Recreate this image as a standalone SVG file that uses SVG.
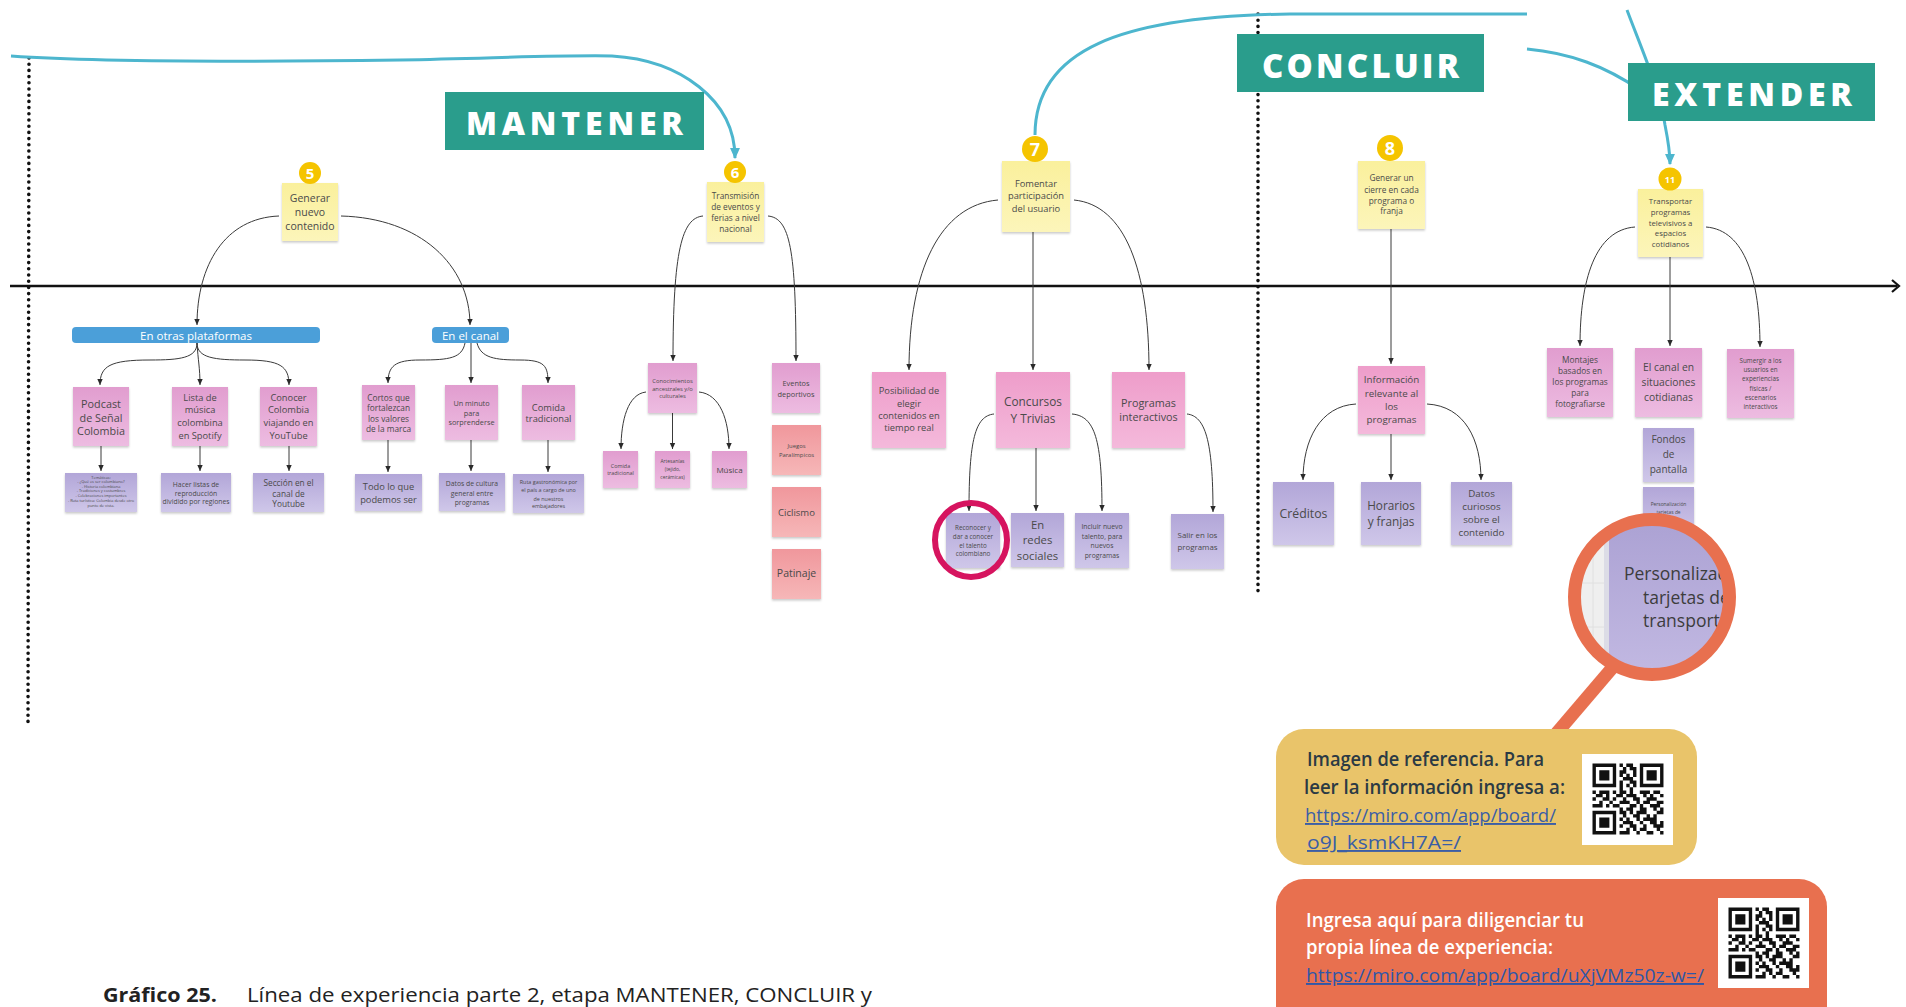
<svg xmlns="http://www.w3.org/2000/svg" width="1906" height="1007" viewBox="0 0 1906 1007">
<style>
.t{font-family:"Open Sans","Liberation Sans",sans-serif;fill:#4a4a4a;text-anchor:middle;dominant-baseline:central}
.conn{fill:none;stroke:#3a3a3a;stroke-width:1;marker-end:url(#ah)}
.teal{fill:none;stroke:#4DB6CE;stroke-width:3}
.lbl{font-family:"Open Sans","Liberation Sans",sans-serif;font-weight:800;fill:#fff}
.num{font-family:"Open Sans","Liberation Sans",sans-serif;font-weight:700;fill:#fff;text-anchor:middle;dominant-baseline:central}
.sticky{fill:url(#gY);filter:url(#sh)}
.pk{fill:url(#gP);filter:url(#sh)}
.pk2{fill:url(#gP2);filter:url(#sh)}
.pu{fill:url(#gU);filter:url(#sh)}
.sa{fill:url(#gS);filter:url(#sh)}
.circ{fill:#F5C400}
.dot{fill:none;stroke:#111;stroke-width:3.6;stroke-linecap:round;stroke-dasharray:0 6.2}
.info{font-family:"Open Sans","Liberation Sans",sans-serif;font-size:19px}
</style>
<defs>
<linearGradient id="gY" x1="0" y1="0" x2="0" y2="1"><stop offset="0" stop-color="#FAF09C"/><stop offset="1" stop-color="#FCF5BA"/></linearGradient>
<linearGradient id="gP" x1="0" y1="0" x2="0" y2="1"><stop offset="0" stop-color="#E19DCF"/><stop offset="1" stop-color="#EDBCE1"/></linearGradient>
<linearGradient id="gP2" x1="0" y1="0" x2="0" y2="1"><stop offset="0" stop-color="#EE9DCA"/><stop offset="1" stop-color="#F4B9DB"/></linearGradient>
<linearGradient id="gU" x1="0" y1="0" x2="0" y2="1"><stop offset="0" stop-color="#B2A6D8"/><stop offset="1" stop-color="#CFC7E9"/></linearGradient>
<linearGradient id="gS" x1="0" y1="0" x2="0" y2="1"><stop offset="0" stop-color="#F0979C"/><stop offset="1" stop-color="#F6B7B8"/></linearGradient>
<linearGradient id="gM" x1="0" y1="0" x2="0" y2="1"><stop offset="0" stop-color="#ABA1D3"/><stop offset="1" stop-color="#C3BAE3"/></linearGradient>
<filter id="sh" x="-10%" y="-10%" width="120%" height="125%"><feDropShadow dx="0" dy="1.5" stdDeviation="1.2" flood-color="#000" flood-opacity="0.22"/></filter>
<marker id="ah" viewBox="0 0 10 10" refX="10" refY="5" markerWidth="6" markerHeight="7" markerUnits="userSpaceOnUse" orient="auto"><path d="M0,0.5 L10,5 L0,9.5z" fill="#2a2a2a"/></marker>
<marker id="ahT" viewBox="0 0 10 10" refX="9" refY="5" markerWidth="11" markerHeight="12" markerUnits="userSpaceOnUse" orient="auto"><path d="M0,0.5 L10,5 L0,9.5z" fill="#4DB6CE"/></marker>
<clipPath id="magclip"><circle cx="1652" cy="597" r="72"/></clipPath>
<g id="qr">
<path fill-rule="evenodd" fill="#111" d="M0,0h7v7h-7zM1,1v5h5v-5zM2,2h3v3h-3z M14,0h7v7h-7zM15,1v5h5v-5zM16,2h3v3h-3z M0,14h7v7h-7zM1,15v5h5v-5zM2,16h3v3h-3z"/>
<path stroke="#111" stroke-width="1" fill="none" d="M8 .5h1M10 .5h2M9 1.5h1M11 1.5h2M8 2.5h2M12 2.5h1M8 3.5h1M10 3.5h1M12 3.5h1M9 4.5h3M8 5.5h1M11 5.5h2M8 6.5h1M10 6.5h1M12 6.5h1M8 7.5h1M11 7.5h1M0 8.5h1M2 8.5h3M6 8.5h1M8 8.5h2M11 8.5h1M14 8.5h3M18 8.5h2M1 9.5h2M4 9.5h1M7 9.5h2M10 9.5h3M15 9.5h1M17 9.5h1M20 9.5h1M0 10.5h1M3 10.5h2M6 10.5h1M9 10.5h1M12 10.5h2M16 10.5h3M2 11.5h1M5 11.5h1M8 11.5h3M13 11.5h1M15 11.5h2M19 11.5h2M0 12.5h3M4 12.5h1M6 12.5h2M11 12.5h2M14 12.5h1M17 12.5h3M8 13.5h1M10 13.5h2M14 13.5h2M18 13.5h1M20 13.5h1M8 14.5h2M11 14.5h1M13 14.5h3M19 14.5h2M9 15.5h1M12 15.5h2M16 15.5h1M18 15.5h1M8 16.5h1M10 16.5h1M13 16.5h1M15 16.5h4M9 17.5h3M14 17.5h1M17 17.5h2M20 17.5h1M8 18.5h1M11 18.5h2M15 18.5h1M18 18.5h3M10 19.5h1M12 19.5h1M14 19.5h2M19 19.5h1M8 20.5h3M13 20.5h1M16 20.5h2M20 20.5h1"/>
</g>
</defs>
<rect width="1906" height="1007" fill="#fff"/>

<!-- timeline and stage dividers -->
<g id="timeline">
<line x1="10" y1="286" x2="1897" y2="286" stroke="#111" stroke-width="2.4"/>
<polyline points="1892,280 1899,286 1892,292" fill="none" stroke="#111" stroke-width="2.2"/>
<line class="dot" x1="29" y1="58" x2="28" y2="726"/>
<line class="dot" x1="1258" y1="14" x2="1258" y2="592"/>
</g>

<!-- teal journey lines -->
<g id="journey">
<path class="teal" d="M11,56 C100,62 250,62 400,60 C500,58 560,55 612,56 C680,60 735,100 735,158" marker-end="url(#ahT)"/>
<path class="teal" d="M1527,14 L1290,14 C1120,16 1035,50 1035,135"/>
<path class="teal" d="M1527,49 C1570,53 1605,66 1640,90"/>
<path class="teal" d="M1627,10 C1640,45 1660,90 1665,125 C1668,140 1670,150 1670,164" marker-end="url(#ahT)"/>
</g>

<!-- stage labels -->
<g id="lbl-mantener"><rect x="445" y="92" width="259" height="58" fill="#2A9D8C"/><text class="lbl" x="466" y="135" font-size="32" textLength="217" lengthAdjust="spacing">MANTENER</text></g>
<g id="lbl-concluir"><rect x="1237" y="34" width="247" height="58" fill="#2A9D8C"/><text class="lbl" x="1262" y="78" font-size="33" textLength="197" lengthAdjust="spacing">CONCLUIR</text></g>
<g id="lbl-extender"><rect x="1628" y="63" width="247" height="58" fill="#2A9D8C"/><text class="lbl" x="1652" y="106" font-size="32" textLength="200" lengthAdjust="spacing">EXTENDER</text></g>

<!-- connectors -->
<g id="connectors">
<path class="conn" d="M279,216 C225,218 197,265 197,325"/>
<path class="conn" d="M341,216 C420,218 470,265 470,325"/>
<path class="conn" d="M197,343 C197,358 180,360 150,360 C110,360 100,366 100,385"/>
<path class="conn" d="M197,343 C198,360 200,368 200,385"/>
<path class="conn" d="M197,343 C197,358 215,360 245,360 C280,360 289,366 289,385"/>
<path class="conn" d="M465,343 C462,358 450,360 420,360 C395,360 388,366 388,383"/>
<path class="conn" d="M471,343 L471,383"/>
<path class="conn" d="M477,343 C481,358 495,360 520,360 C545,360 548,366 548,383"/>
<path class="conn" d="M101,446 L101,471"/>
<path class="conn" d="M200,446 L200,471"/>
<path class="conn" d="M289,446 L289,471"/>
<path class="conn" d="M388,440 L388,472"/>
<path class="conn" d="M471,440 L471,471"/>
<path class="conn" d="M548,440 L548,472"/>
<path class="conn" d="M703,216 C682,218 673,250 673,361"/>
<path class="conn" d="M768,216 C790,218 796,250 796,361"/>
<path class="conn" d="M646,392 C628,394 621,420 621,449"/>
<path class="conn" d="M672.5,413 L672.5,449"/>
<path class="conn" d="M699,392 C720,394 729,420 729,449"/>
<path class="conn" d="M998,200 C940,205 909,270 909,370"/>
<path class="conn" d="M1033,232 L1033,370"/>
<path class="conn" d="M1074,200 C1125,205 1149,270 1149,370"/>
<path class="conn" d="M994,414 C975,416 969,440 969,511"/>
<path class="conn" d="M1036,448 L1036,511"/>
<path class="conn" d="M1072,414 C1095,416 1102,440 1102,511"/>
<path class="conn" d="M1187,414 C1205,416 1213,440 1213,512"/>
<path class="conn" d="M1391,229 L1391,364"/>
<path class="conn" d="M1356,404 C1320,406 1303,440 1303,480"/>
<path class="conn" d="M1391,434 L1391,480"/>
<path class="conn" d="M1427,404 C1465,406 1481,440 1481,480"/>
<path class="conn" d="M1635,227 C1595,230 1580,280 1580,346"/>
<path class="conn" d="M1670,257 L1670,346"/>
<path class="conn" d="M1706,227 C1745,230 1760,280 1760,347"/>
</g>

<!-- yellow sticky nodes -->
<g id="n5"><rect class="sticky" x="282" y="183" width="56" height="58"/><circle class="circ" cx="310" cy="173" r="11"/><text class="num" x="310" y="173" font-size="15">5</text>
<text class="t" font-size="10.5"><tspan x="310" y="198">Generar</tspan><tspan x="310" y="212">nuevo</tspan><tspan x="310" y="226">contenido</tspan></text></g>
<g id="n6"><rect class="sticky" x="707" y="182" width="57" height="60"/><circle class="circ" cx="735" cy="172" r="11"/><text class="num" x="735" y="172" font-size="15">6</text>
<text class="t" font-size="8.3"><tspan x="735.5" y="195">Transmisión</tspan><tspan x="735.5" y="206">de  eventos y</tspan><tspan x="735.5" y="217">ferias a nivel</tspan><tspan x="735.5" y="228">nacional</tspan></text></g>
<g id="n7"><rect class="sticky" x="1002" y="161" width="68" height="71"/><circle class="circ" cx="1035" cy="149" r="13"/><text class="num" x="1035" y="149" font-size="18">7</text>
<text class="t" font-size="9.3"><tspan x="1036" y="183">Fomentar</tspan><tspan x="1036" y="195">participación</tspan><tspan x="1036" y="208">del usuario</tspan></text></g>
<g id="n8"><rect class="sticky" x="1358" y="161" width="67" height="68"/><circle class="circ" cx="1390" cy="148" r="13"/><text class="num" x="1390" y="148" font-size="18">8</text>
<text class="t" font-size="8.3"><tspan x="1391.5" y="177">Generar un</tspan><tspan x="1391.5" y="189">cierre en cada</tspan><tspan x="1391.5" y="200">programa o</tspan><tspan x="1391.5" y="210">franja</tspan></text></g>
<g id="n11"><rect class="sticky" x="1638" y="189" width="65" height="68"/><circle class="circ" cx="1670" cy="179" r="11.5"/><text class="num" x="1670" y="179" font-size="9">11</text>
<text class="t" font-size="7.8"><tspan x="1670.5" y="201">Transportar</tspan><tspan x="1670.5" y="212">programas</tspan><tspan x="1670.5" y="223">televisivos a</tspan><tspan x="1670.5" y="233">espacios</tspan><tspan x="1670.5" y="244">cotidianos</tspan></text></g>

<!-- blue bars -->
<g id="bar-otras"><rect x="72" y="327" width="248" height="16" rx="4" fill="#4B9FD9"/><text class="t" x="196" y="335" font-size="11.5" style="fill:#fff">En otras plataformas</text></g>
<g id="bar-canal"><rect x="432" y="327" width="77" height="16" rx="4" fill="#4B9FD9"/><text class="t" x="470.5" y="335" font-size="11.5" style="fill:#fff">En el canal</text></g>

<!-- MANTENER: pink nodes -->
<g id="n-podcast"><rect class="pk" x="73" y="387" width="56" height="59"/><text class="t" font-size="10.8"><tspan x="101" y="403">Podcast</tspan><tspan x="101" y="417">de Señal</tspan><tspan x="101" y="430">Colombia</tspan></text></g>
<g id="n-lista"><rect class="pk" x="172" y="387" width="56" height="59"/><text class="t" font-size="9.3"><tspan x="200" y="397">Lista de</tspan><tspan x="200" y="409">música</tspan><tspan x="200" y="422">colombina</tspan><tspan x="200" y="435">en Spotify</tspan></text></g>
<g id="n-conocer"><rect class="pk" x="260" y="387" width="57" height="59"/><text class="t" font-size="9.3"><tspan x="288.5" y="397">Conocer</tspan><tspan x="288.5" y="409">Colombia</tspan><tspan x="288.5" y="422">viajando en</tspan><tspan x="288.5" y="435">YouTube</tspan></text></g>
<g id="n-cortos"><rect class="pk" x="362" y="385" width="53" height="55"/><text class="t" font-size="8.3"><tspan x="388.5" y="397">Cortos que</tspan><tspan x="388.5" y="407">fortalezcan</tspan><tspan x="388.5" y="418">los valores</tspan><tspan x="388.5" y="428">de la marca</tspan></text></g>
<g id="n-minuto"><rect class="pk" x="445" y="385" width="53" height="55"/><text class="t" font-size="7.3"><tspan x="471.5" y="403">Un minuto</tspan><tspan x="471.5" y="413">para</tspan><tspan x="471.5" y="422">sorprenderse</tspan></text></g>
<g id="n-comida"><rect class="pk" x="522" y="385" width="53" height="55"/><text class="t" font-size="9.3"><tspan x="548.5" y="407">Comida</tspan><tspan x="548.5" y="418">tradicional</tspan></text></g>

<!-- MANTENER: purple nodes -->
<g id="n-tematicas"><rect class="pu" x="65" y="473" width="72" height="39"/><text class="t" font-size="3.9"><tspan x="101" y="476.5">Temáticas:</tspan><tspan x="101" y="481">- ¿Qué es ser colombiano?</tspan><tspan x="101" y="485.5">- Historia colombiana</tspan><tspan x="101" y="490">- Tradiciones y costumbres</tspan><tspan x="101" y="495">- Celebraciones importantes</tspan><tspan x="101" y="499.5">- Ruta turística: Colombia desde otro</tspan><tspan x="101" y="505">punto de vista.</tspan></text></g>
<g id="n-hacer"><rect class="pu" x="161" y="473" width="70" height="39"/><text class="t" font-size="6.8"><tspan x="196" y="484">Hacer listas de</tspan><tspan x="196" y="493">reproducción</tspan><tspan x="196" y="501">dividido por regiones</tspan></text></g>
<g id="n-seccion"><rect class="pu" x="253" y="473" width="71" height="39"/><text class="t" font-size="8.3"><tspan x="288.5" y="482">Sección en el</tspan><tspan x="288.5" y="493">canal de</tspan><tspan x="288.5" y="503">Youtube</tspan></text></g>
<g id="n-todo"><rect class="pu" x="355" y="474" width="67" height="37"/><text class="t" font-size="9.3"><tspan x="388.5" y="486">Todo lo que</tspan><tspan x="388.5" y="499">podemos ser</tspan></text></g>
<g id="n-datoscultura"><rect class="pu" x="439" y="473" width="66" height="38"/><text class="t" font-size="6.8"><tspan x="472" y="483">Datos de cultura</tspan><tspan x="472" y="493">general entre</tspan><tspan x="472" y="502">programas</tspan></text></g>
<g id="n-ruta"><rect class="pu" x="513" y="474" width="71" height="39"/><text class="t" font-size="5.4"><tspan x="548.5" y="482">Ruta gastronómica por</tspan><tspan x="548.5" y="490">el país a cargo de uno</tspan><tspan x="548.5" y="499">de nuestros</tspan><tspan x="548.5" y="506">embajadores</tspan></text></g>

<!-- node 6 children -->
<g id="n-conocimientos"><rect class="pk" x="648" y="363" width="49" height="50"/><text class="t" font-size="5.8"><tspan x="672.5" y="381">Conocimientos</tspan><tspan x="672.5" y="388.5">ancestrales y/o</tspan><tspan x="672.5" y="396">culturales</tspan></text></g>
<g id="n-comida2"><rect class="pk" x="603" y="451" width="35" height="37"/><text class="t" font-size="5.4"><tspan x="620.5" y="466">Comida</tspan><tspan x="620.5" y="473">tradicional</tspan></text></g>
<g id="n-artesanias"><rect class="pk" x="655" y="451" width="35" height="37"/><text class="t" font-size="4.9"><tspan x="672.5" y="461">Artesanías</tspan><tspan x="672.5" y="469">(tejido,</tspan><tspan x="672.5" y="477">cerámicas)</tspan></text></g>
<g id="n-musica"><rect class="pk" x="712" y="451" width="35" height="37"/><text class="t" x="729.5" y="469" font-size="8">Música</text></g>
<g id="n-eventos"><rect class="pk" x="772" y="363" width="48" height="50"/><text class="t" font-size="7.4"><tspan x="796" y="383">Eventos</tspan><tspan x="796" y="394">deportivos</tspan></text></g>
<g id="n-juegos"><rect class="sa" x="772" y="425" width="49" height="50"/><text class="t" font-size="5.9"><tspan x="796.5" y="446">Juegos</tspan><tspan x="796.5" y="455">Paralímpicos</tspan></text></g>
<g id="n-ciclismo"><rect class="sa" x="772" y="487" width="49" height="50"/><text class="t" x="796.5" y="512" font-size="9.5">Ciclismo</text></g>
<g id="n-patinaje"><rect class="sa" x="772" y="549" width="49" height="50"/><text class="t" x="796.5" y="573" font-size="10.5">Patinaje</text></g>

<!-- node 7 children -->
<g id="n-posibilidad"><rect class="pk2" x="872" y="372" width="74" height="76"/><text class="t" font-size="9.3"><tspan x="909" y="390">Posibilidad de</tspan><tspan x="909" y="403">elegir</tspan><tspan x="909" y="415">contenidos en</tspan><tspan x="909" y="427">tiempo real</tspan></text></g>
<g id="n-concursos"><rect class="pk2" x="996" y="372" width="74" height="76"/><text class="t" font-size="11.8"><tspan x="1033" y="401">Concursos</tspan><tspan x="1033" y="418">Y Trivias</tspan></text></g>
<g id="n-programas"><rect class="pk2" x="1112" y="372" width="73" height="76"/><text class="t" font-size="10.8"><tspan x="1148.5" y="402">Programas</tspan><tspan x="1148.5" y="416">interactivos</tspan></text></g>
<g id="n-reconocer"><rect class="pu" x="946" y="513" width="54" height="55"/><text class="t" font-size="6.3"><tspan x="973" y="527">Reconocer y</tspan><tspan x="973" y="536">dar a conocer</tspan><tspan x="973" y="544.5">el talento</tspan><tspan x="973" y="553">colombiano</tspan></text>
<ellipse cx="971" cy="540" rx="36" ry="37" fill="none" stroke="#D6145F" stroke-width="6"/></g>
<g id="n-redes"><rect class="pu" x="1011" y="513" width="53" height="54"/><text class="t" font-size="11.3"><tspan x="1037.5" y="524">En</tspan><tspan x="1037.5" y="539">redes</tspan><tspan x="1037.5" y="555">sociales</tspan></text></g>
<g id="n-incluir"><rect class="pu" x="1075" y="513" width="54" height="55"/><text class="t" font-size="6.8"><tspan x="1102" y="526">Incluir nuevo</tspan><tspan x="1102" y="536">talento, para</tspan><tspan x="1102" y="545">nuevos</tspan><tspan x="1102" y="555">programas</tspan></text></g>
<g id="n-salir"><rect class="pu" x="1171" y="514" width="53" height="55"/><text class="t" font-size="7.9"><tspan x="1197.5" y="535">Salir en los</tspan><tspan x="1197.5" y="547">programas</tspan></text></g>

<!-- node 8 children -->
<g id="n-informacion"><rect class="pk2" x="1358" y="366" width="67" height="68"/><text class="t" font-size="9.8"><tspan x="1391.5" y="379">Información</tspan><tspan x="1391.5" y="393">relevante al</tspan><tspan x="1391.5" y="406">los</tspan><tspan x="1391.5" y="419">programas</tspan></text></g>
<g id="n-creditos"><rect class="pu" x="1273" y="482" width="61" height="63"/><text class="t" x="1303.5" y="513" font-size="12.3">Créditos</text></g>
<g id="n-horarios"><rect class="pu" x="1361" y="482" width="60" height="63"/><text class="t" font-size="11.8"><tspan x="1391" y="505">Horarios</tspan><tspan x="1391" y="521">y franjas</tspan></text></g>
<g id="n-datoscuriosos"><rect class="pu" x="1451" y="482" width="61" height="63"/><text class="t" font-size="9.8"><tspan x="1481.5" y="493">Datos</tspan><tspan x="1481.5" y="506">curiosos</tspan><tspan x="1481.5" y="519">sobre el</tspan><tspan x="1481.5" y="532">contenido</tspan></text></g>

<!-- node 11 children -->
<g id="n-montajes"><rect class="pk" x="1547" y="348" width="66" height="69"/><text class="t" font-size="8.3"><tspan x="1580" y="359">Montajes</tspan><tspan x="1580" y="370">basados en</tspan><tspan x="1580" y="381">los programas</tspan><tspan x="1580" y="392">para</tspan><tspan x="1580" y="403">fotografiarse</tspan></text></g>
<g id="n-elcanal"><rect class="pk" x="1635" y="348" width="67" height="69"/><text class="t" font-size="10.3"><tspan x="1668.5" y="367">El canal en</tspan><tspan x="1668.5" y="382">situaciones</tspan><tspan x="1668.5" y="397">cotidianas</tspan></text></g>
<g id="n-sumergir"><rect class="pk" x="1727" y="349" width="67" height="69"/><text class="t" font-size="6.3"><tspan x="1760.5" y="360">Sumergir a los</tspan><tspan x="1760.5" y="369">usuarios en</tspan><tspan x="1760.5" y="378">experiencias</tspan><tspan x="1760.5" y="388">físicas /</tspan><tspan x="1760.5" y="397">escenarios</tspan><tspan x="1760.5" y="406">interactivos</tspan></text></g>
<g id="n-fondos"><rect class="pu" x="1643" y="428" width="51" height="54"/><text class="t" font-size="10"><tspan x="1668.5" y="439">Fondos</tspan><tspan x="1668.5" y="454">de</tspan><tspan x="1668.5" y="469">pantalla</tspan></text></g>
<g id="n-personalizacion"><rect class="pu" x="1643" y="487" width="51" height="50"/><text class="t" font-size="4.9"><tspan x="1668.5" y="504">Personalización</tspan><tspan x="1668.5" y="512">tarjetas de</tspan></text></g>

<!-- magnifier -->
<g id="magnifier">
<line x1="1613" y1="667" x2="1555" y2="735" stroke="#E8704F" stroke-width="13"/>
<g clip-path="url(#magclip)">
<rect x="1570" y="515" width="170" height="170" fill="#EFEFEF"/>
<path d="M1593,515 V685 M1570,583 H1610 M1570,627 H1610" stroke="#E0E0E0" stroke-width="1" fill="none"/>
<rect x="1604" y="515" width="6" height="170" fill="#DCDCE6"/>
<rect x="1609" y="515" width="130" height="170" fill="url(#gM)"/>
<text class="t" style="text-anchor:start;fill:#3d3d3d" font-size="17.5"><tspan x="1624" y="573">Personalizac</tspan><tspan x="1643" y="597">tarjetas de</tspan><tspan x="1643" y="620">transport</tspan></text>
</g>
<circle cx="1652" cy="597" r="77.5" fill="none" stroke="#E8704F" stroke-width="13"/>
</g>

<!-- info boxes -->
<g id="info-ref">
<rect x="1276" y="729" width="421" height="136" rx="28" fill="#E9C46A"/>
<text class="info" x="1307" y="766" font-weight="600" fill="#2B3A44" textLength="237" lengthAdjust="spacingAndGlyphs">Imagen de referencia. Para</text>
<text class="info" x="1304" y="794" font-weight="600" fill="#2B3A44" textLength="261" lengthAdjust="spacingAndGlyphs">leer la información ingresa a:</text>
<text class="info" x="1305" y="822" fill="#3B5EA6" text-decoration="underline" textLength="251" lengthAdjust="spacingAndGlyphs">https://miro.com/app/board/</text>
<text class="info" x="1307" y="849" fill="#3B5EA6" text-decoration="underline" textLength="154" lengthAdjust="spacingAndGlyphs">o9J_ksmKH7A=/</text>
<rect x="1582" y="754" width="91" height="91" fill="#fff"/>
<use href="#qr" transform="translate(1592.5,763.5) scale(3.38)"/>
</g>
<g id="info-own">
<rect x="1276" y="879" width="551" height="170" rx="28" fill="#E8704F"/>
<text class="info" x="1306" y="927" font-weight="600" fill="#fff" textLength="278" lengthAdjust="spacingAndGlyphs">Ingresa aquí para diligenciar tu</text>
<text class="info" x="1306" y="954" font-weight="600" fill="#fff" textLength="247" lengthAdjust="spacingAndGlyphs">propia línea de experiencia:</text>
<text class="info" x="1306" y="982" fill="#2F57A8" text-decoration="underline" textLength="398" lengthAdjust="spacingAndGlyphs">https://miro.com/app/board/uXjVMz50z-w=/</text>
<rect x="1718" y="898" width="91" height="90" fill="#fff"/>
<use href="#qr" transform="translate(1728.5,907.5) scale(3.38)"/>
</g>

<!-- caption -->
<g id="caption">
<text x="103" y="1002" font-family="Open Sans, Liberation Sans, sans-serif" font-size="20" font-weight="700" fill="#222" textLength="114" lengthAdjust="spacingAndGlyphs">Gráfico 25.</text>
<text x="247" y="1002" font-family="Open Sans, Liberation Sans, sans-serif" font-size="20" fill="#222" textLength="625" lengthAdjust="spacingAndGlyphs">Línea de experiencia parte 2, etapa MANTENER, CONCLUIR y</text>
</g>
</svg>
